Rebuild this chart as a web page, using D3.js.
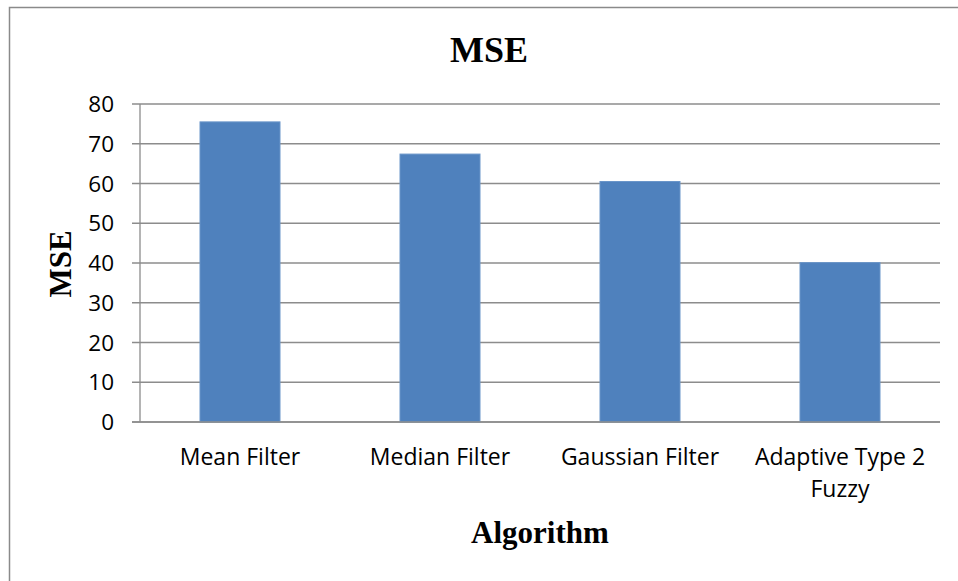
<!DOCTYPE html>
<html><head><meta charset="utf-8">
<script src="https://cdn.jsdelivr.net/npm/d3@7"></script>
<style>body{margin:0;background:#fff}svg{display:block}</style>
</head><body>
<script>
const categories = ["Mean Filter", "Median Filter", "Gaussian Filter", "Adaptive Type 2 Fuzzy"];
const categoryLines = [["Mean Filter"], ["Median Filter"], ["Gaussian Filter"], ["Adaptive Type 2", "Fuzzy"]];
const mseValues = [75.5, 67.4, 60.5, 40.1];
const yTicks = [0, 10, 20, 30, 40, 50, 60, 70, 80];
const chartTitle = "MSE";
const yTitle = "MSE";
const xTitle = "Algorithm";

const W = 958, H = 581;
const svg = d3.select("body").append("svg").attr("width", W).attr("height", H);

// outer border
svg.append("rect").attr("x", 9.5).attr("y", 7.5).attr("width", W + 10).attr("height", H + 10)
  .attr("fill", "none").attr("stroke", "#8a8a8a").attr("stroke-width", 1.5);

const m = {left: 140, right: 940, top: 104, bottom: 422};
const x = d3.scaleBand().domain(categories).range([m.left, m.right]).paddingInner(0.6).paddingOuter(0.3);
const y = d3.scaleLinear().domain([0, 80]).range([m.bottom, m.top]);

// gridlines
svg.append("g").selectAll("line").data(yTicks).join("line")
  .attr("x1", m.left - 8).attr("x2", m.right)
  .attr("y1", d => y(d)).attr("y2", d => y(d))
  .attr("stroke", "#8c8c8c").attr("stroke-width", 1.3);

// y axis line
svg.append("line").attr("x1", m.left).attr("x2", m.left).attr("y1", y(80)).attr("y2", y(0))
  .attr("stroke", "#8c8c8c").attr("stroke-width", 1.3);

// bars
svg.append("g").selectAll("rect").data(mseValues).join("rect")
  .attr("x", (d, i) => x(categories[i]))
  .attr("width", x.bandwidth())
  .attr("y", d => y(d))
  .attr("height", d => y(0) - y(d))
  .attr("fill", "#4f81bd").attr("stroke", "#6a95c9").attr("stroke-width", 1);

// redraw x axis line over bars
svg.append("line").attr("x1", m.left - 8).attr("x2", m.right).attr("y1", y(0)).attr("y2", y(0))
  .attr("stroke", "#8c8c8c").attr("stroke-width", 1.3);

const tickFont = "'Open Sans', sans-serif";
// y tick labels
svg.append("g").selectAll("text").data(yTicks).join("text")
  .attr("x", 114).attr("y", d => y(d)).attr("dy", "0.36em")
  .attr("text-anchor", "end").attr("font-family", tickFont).attr("font-size", 22.5)
  .attr("fill", "#000").text(d => d);

// x tick labels
const xl = svg.append("g");
categories.forEach((c, i) => {
  const t = xl.append("text").attr("text-anchor", "middle").attr("font-family", tickFont)
    .attr("font-size", 23).attr("fill", "#000");
  categoryLines[i].forEach((ln, j) => {
    t.append("tspan").attr("x", x(c) + x.bandwidth() / 2).attr("y", 465 + j * 32).text(ln);
  });
});

// titles
svg.append("text").attr("x", 489).attr("y", 62).attr("text-anchor", "middle")
  .attr("font-family", "'Liberation Serif', 'Times New Roman', serif").attr("font-weight", "bold")
  .attr("font-size", 36).text(chartTitle);

svg.append("text").attr("transform", "translate(71,264) rotate(-90)").attr("text-anchor", "middle")
  .attr("font-family", "'Liberation Serif', 'Times New Roman', serif").attr("font-weight", "bold")
  .attr("font-size", 31).text(yTitle);

svg.append("text").attr("x", 540).attr("y", 543).attr("text-anchor", "middle")
  .attr("font-family", "'Liberation Serif', 'Times New Roman', serif").attr("font-weight", "bold")
  .attr("font-size", 31).text(xTitle);
</script>
</body></html>
